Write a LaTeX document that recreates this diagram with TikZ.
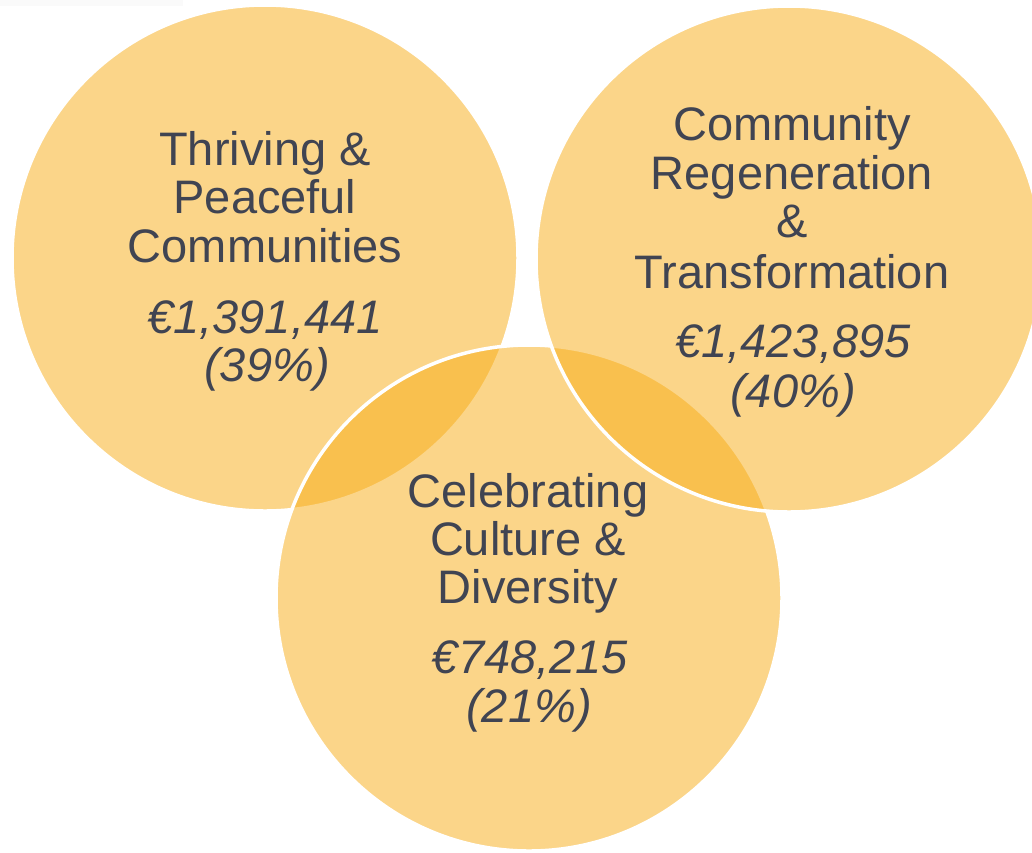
\documentclass[tikz,border=0pt]{standalone}
\usepackage{fontspec}
\setmainfont{Liberation Sans}
\definecolor{vfill}{RGB}{249,173,21}
\definecolor{vtext}{RGB}{64,68,82}
\begin{document}
\begin{tikzpicture}[x=1pt,y=-1pt,
  venn/.style={circle, inner sep=0pt, outer sep=0pt, minimum size=506pt, fill=vfill, fill opacity=0.5, draw=white, draw opacity=1, line width=3.5pt},
  ttl/.style={anchor=base, inner sep=0pt, text=vtext, font=\fontsize{47}{48}\selectfont},
  num/.style={anchor=base, inner sep=0pt, text=vtext, font=\fontsize{47}{48}\selectfont\itshape}]
\useasboundingbox (0,0) rectangle (1032,852);
\clip (0,0) rectangle (1032,852);
\fill[white] (0,0) rectangle (1032,852);
\fill[black!2] (0,0) rectangle (183,6);
% circles: left, bottom, right (drawing order matters)
\node[venn] (cL) at (265,258) {};
\node[venn] (cB) at (529,598) {};
\node[venn] (cR) at (789,259) {};
% left texts
\node[ttl] (l1) at (265,165) {Thriving \&};
\node[ttl] (l2) at (265,213) {Peaceful};
\node[ttl] (l3) at (265,262) {Communities};
\node[num] (l4) at (265,333) {€1,391,441};
\node[num] (l5) at (267,381) {(39\%)};
% right texts
\node[ttl] (r1) at (792,140) {Community};
\node[ttl] (r2) at (792,189) {Regeneration};
\node[ttl] (r3) at (792,237) {\&};
\node[ttl] (r4) at (792,288) {Transformation};
\node[num] (r5) at (793,357) {€1,423,895};
\node[num] (r6) at (793,407) {(40\%)};
% bottom texts
\node[ttl] (b1) at (528,507) {Celebrating};
\node[ttl] (b2) at (528,555) {Culture \&};
\node[ttl] (b3) at (528,603) {Diversity};
\node[num] (b4) at (530,673) {€748,215};
\node[num] (b5) at (529,722) {(21\%)};
\end{tikzpicture}
\end{document}
